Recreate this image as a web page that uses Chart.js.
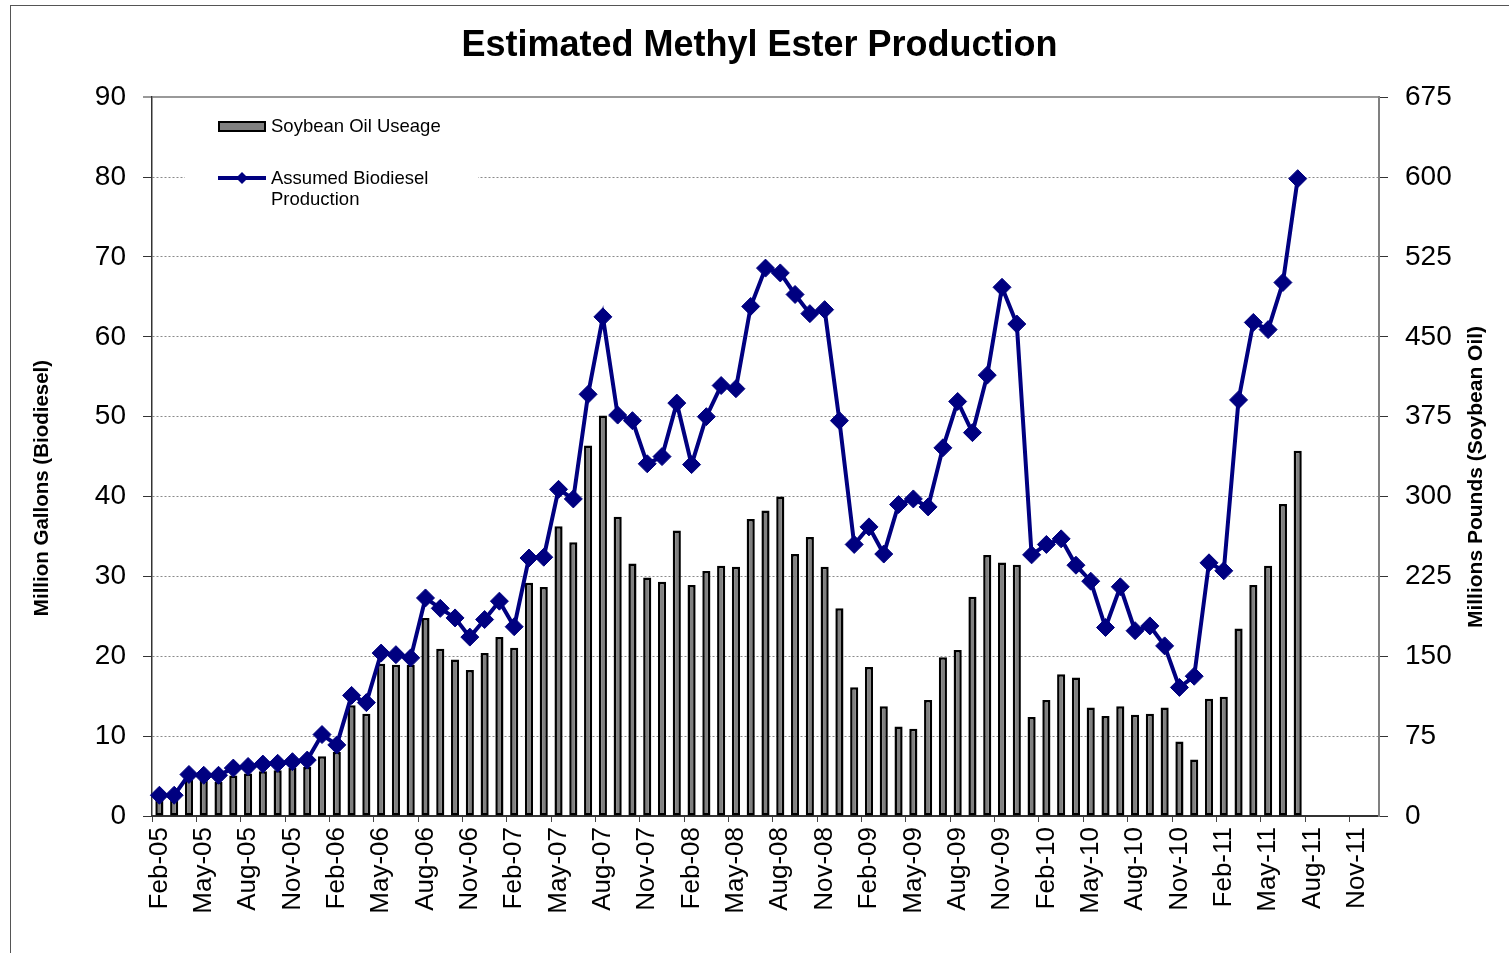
<!DOCTYPE html>
<html>
<head>
<meta charset="utf-8">
<title>Estimated Methyl Ester Production</title>
<script src="https://cdn.jsdelivr.net/npm/chart.js@4.4.0/dist/chart.umd.min.js"></script>
<style>
  html, body { margin: 0; padding: 0; background: #fff; }
  #wrap { position: relative; width: 1509px; height: 953px; }
</style>
</head>
<body>
<div id="wrap"><canvas id="esterChart" width="1509" height="953"></canvas></div>
<script>
const months = [
  'Feb-05','Mar-05','Apr-05','May-05','Jun-05','Jul-05','Aug-05','Sep-05','Oct-05','Nov-05','Dec-05',
  'Jan-06','Feb-06','Mar-06','Apr-06','May-06','Jun-06','Jul-06','Aug-06','Sep-06','Oct-06','Nov-06','Dec-06',
  'Jan-07','Feb-07','Mar-07','Apr-07','May-07','Jun-07','Jul-07','Aug-07','Sep-07','Oct-07','Nov-07','Dec-07',
  'Jan-08','Feb-08','Mar-08','Apr-08','May-08','Jun-08','Jul-08','Aug-08','Sep-08','Oct-08','Nov-08','Dec-08',
  'Jan-09','Feb-09','Mar-09','Apr-09','May-09','Jun-09','Jul-09','Aug-09','Sep-09','Oct-09','Nov-09','Dec-09',
  'Jan-10','Feb-10','Mar-10','Apr-10','May-10','Jun-10','Jul-10','Aug-10','Sep-10','Oct-10','Nov-10','Dec-10',
  'Jan-11','Feb-11','Mar-11','Apr-11','May-11','Jun-11','Jul-11','Aug-11','Sep-11','Oct-11','Nov-11','Dec-11'
];

// million gallons, left axis
const biodiesel = [
  2.6, 2.6, 5.2, 5.1, 5.1, 6.0, 6.2, 6.5, 6.6, 6.8, 7.0,
  10.2, 8.9, 15.1, 14.2, 20.4, 20.2, 19.8, 27.3, 26.0, 24.8, 22.4, 24.6,
  26.9, 23.7, 32.3, 32.4, 40.9, 39.7, 52.8, 62.5, 50.2, 49.5, 44.1, 45.0,
  51.7, 44.0, 50.0, 53.9, 53.5, 63.8, 68.6, 68.0, 65.3, 62.9, 63.4, 49.5,
  34.0, 36.2, 32.8, 39.0, 39.7, 38.7, 46.1, 51.9, 48.0, 55.2, 66.2, 61.6,
  32.7, 34.0, 34.7, 31.4, 29.4, 23.6, 28.7, 23.2, 23.8, 21.3, 16.1, 17.5,
  31.7, 30.7, 52.1, 61.8, 60.9, 66.8, 79.8
];

// million pounds, right axis
const soybeanOil = [
  17, 17, 34, 34, 32, 38, 40, 42, 43, 45, 46,
  56, 60, 104, 96, 143, 142, 142, 186, 157, 147, 137, 153,
  168, 158, 219, 215, 272, 257, 348, 376, 281, 237, 224, 220,
  268, 217, 230, 235, 234, 279, 287, 300, 246, 262, 234, 195,
  121, 140, 103, 84, 82, 109, 149, 156, 206, 245, 238, 236,
  93, 109, 133, 130, 102, 94, 103, 95, 96, 102, 70, 53,
  110, 112, 176, 217, 235, 293, 343
];

const leftAxisTicks = [0, 10, 20, 30, 40, 50, 60, 70, 80, 90];
const rightAxisTicks = [0, 75, 150, 225, 300, 375, 450, 525, 600, 675];

const chartTitle = 'Estimated Methyl Ester Production';
const leftAxisTitle = 'Million Gallons (Biodiesel)';
const rightAxisTitle = 'Millions Pounds (Soybean Oil)';
const barLegend = ['Soybean Oil Useage'];
const lineLegend = ['Assumed Biodiesel', 'Production'];

const FONT = "'Liberation Sans', Arial, sans-serif";
const NAVY = '#000080';

// frame, legend box and axis titles drawn straight onto the canvas
const decorations = {
  id: 'decorations',
  beforeDraw(chart) {
    const ctx = chart.ctx;
    ctx.save();
    ctx.strokeStyle = '#555';
    ctx.lineWidth = 1;
    ctx.strokeRect(10.5, 5.5, chart.width + 10, chart.height + 10);
    ctx.restore();
  },
  afterDatasetsDraw(chart) {
    const ctx = chart.ctx;
    ctx.save();

    // legend
    ctx.fillStyle = '#fff';
    ctx.fillRect(185, 104, 293, 110);
    ctx.fillStyle = '#808080';
    ctx.strokeStyle = '#000';
    ctx.lineWidth = 2;
    ctx.fillRect(219, 122, 46, 9);
    ctx.strokeRect(219, 122, 46, 9);

    ctx.strokeStyle = NAVY;
    ctx.lineWidth = 4;
    ctx.beginPath();
    ctx.moveTo(218, 178);
    ctx.lineTo(266, 178);
    ctx.stroke();
    ctx.fillStyle = NAVY;
    ctx.beginPath();
    ctx.moveTo(242, 172); ctx.lineTo(248, 178); ctx.lineTo(242, 184); ctx.lineTo(236, 178);
    ctx.closePath();
    ctx.fill();

    ctx.fillStyle = '#000';
    ctx.font = '18.5px ' + FONT;
    ctx.textBaseline = 'middle';
    ctx.textAlign = 'left';
    ctx.fillText(barLegend[0], 271, 127);
    ctx.fillText(lineLegend[0], 271, 179);
    ctx.fillText(lineLegend[1], 271, 200);

    // axis titles
    ctx.textAlign = 'center';
    ctx.font = 'bold 20.5px ' + FONT;
    ctx.save();
    ctx.translate(42, 488);
    ctx.rotate(-Math.PI / 2);
    ctx.fillText(leftAxisTitle, 0, 0);
    ctx.restore();
    ctx.font = 'bold 21px ' + FONT;
    ctx.save();
    ctx.translate(1476, 477);
    ctx.rotate(-Math.PI / 2);
    ctx.fillText(rightAxisTitle, 0, 0);
    ctx.restore();

    ctx.restore();
  }
};

const ctx = document.getElementById('esterChart').getContext('2d');
const esterChart = new Chart(ctx, {
  type: 'bar',
  data: {
    labels: months,
    datasets: [
      {
        type: 'line',
        label: lineLegend.join(' '),
        data: biodiesel,
        yAxisID: 'y',
        borderColor: NAVY,
        backgroundColor: NAVY,
        borderWidth: 4,
        pointStyle: 'rectRot',
        pointRadius: 9,
        pointBorderWidth: 1,
        pointBackgroundColor: NAVY,
        pointBorderColor: NAVY,
        tension: 0,
        order: 0
      },
      {
        type: 'bar',
        label: barLegend[0],
        data: soybeanOil,
        yAxisID: 'y1',
        backgroundColor: '#808080',
        borderColor: '#000',
        borderWidth: 2.5,
        borderSkipped: false,
        barPercentage: 0.55,
        categoryPercentage: 1,
        order: 1
      }
    ]
  },
  options: {
    responsive: false,
    animation: false,
    layout: { padding: { left: 10 } },
    plugins: {
      legend: { display: false },
      tooltip: { enabled: false },
      title: {
        display: true,
        text: chartTitle,
        color: '#000',
        font: { family: FONT, size: 36, weight: 'bold', lineHeight: 1.2 },
        padding: { top: 24, bottom: 30 }
      }
    },
    scales: {
      x: {
        offset: true,
        grid: {
          offset: true,
          drawOnChartArea: false,
          drawTicks: true,
          tickLength: 6,
          lineWidth: 1,
          tickColor: c => (c.index % 3 === 0 && c.index < months.length) ? '#444' : 'rgba(0,0,0,0)'
        },
        border: { color: '#333', width: 2 },
        ticks: {
          autoSkip: false,
          minRotation: 90,
          maxRotation: 90,
          padding: 5,
          color: '#000',
          font: { family: FONT, size: 26 },
          callback: function (value, index) {
            return index % 3 === 0 ? months[index] : '';
          }
        },
        afterFit: s => { s.height = 137; }
      },
      y: {
        position: 'left',
        min: leftAxisTicks[0],
        max: leftAxisTicks[leftAxisTicks.length - 1],
        afterBuildTicks: s => { s.ticks = leftAxisTicks.map(v => ({ value: v })); },
        grid: {
          color: c => c.tick && c.tick.value === 90 ? '#999' : (c.tick && c.tick.value === 0 ? 'rgba(0,0,0,0)' : '#8a8a8a'),
          lineWidth: c => c.tick && c.tick.value === 90 ? 2 : 1,
          tickColor: '#333',
          tickLength: 9,
          tickWidth: 1
        },
        border: {
          color: '#333',
          width: 1.5,
          dash: c => c.tick && c.tick.value === 90 ? [] : [2, 2]
        },
        ticks: {
          padding: 17,
          color: '#000',
          font: { family: FONT, size: 28 }
        },
        afterFit: s => { s.width = 142; }
      },
      y1: {
        position: 'right',
        min: rightAxisTicks[0],
        max: rightAxisTicks[rightAxisTicks.length - 1],
        afterBuildTicks: s => { s.ticks = rightAxisTicks.map(v => ({ value: v })); },
        grid: {
          drawOnChartArea: false,
          tickColor: '#333',
          tickLength: 9,
          tickWidth: 1
        },
        border: { color: '#808080', width: 2 },
        ticks: {
          padding: 17,
          color: '#000',
          font: { family: FONT, size: 28 }
        },
        afterFit: s => { s.width = 130; }
      }
    }
  },
  plugins: [decorations]
});
</script>
</body>
</html>
